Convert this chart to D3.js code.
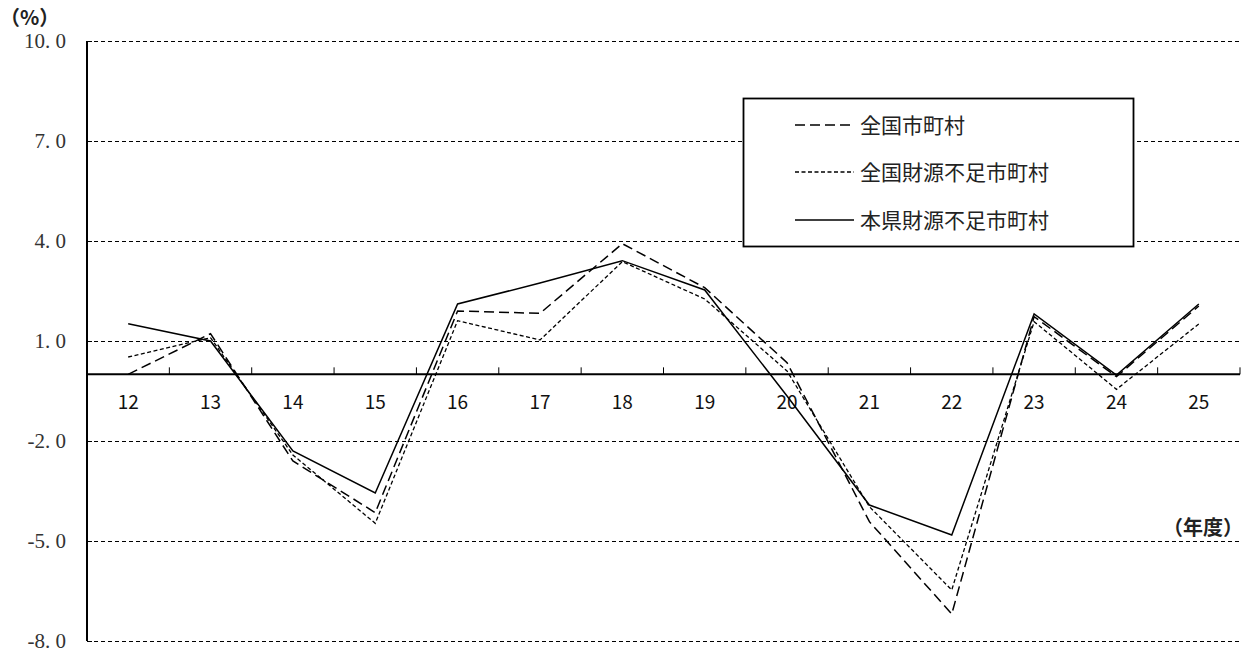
<!DOCTYPE html>
<html>
<head>
<meta charset="UTF-8">
<title>Chart</title>
<script src="https://cdn.jsdelivr.net/npm/d3@7"></script>
<style type="text/css">
body { margin: 0; background: #fff; }
svg { display: block; }
</style>
</head>
<body>
<div class="chart"></div>
<script>
// values (%)
var years = ["12","13","14","15","16","17","18","19","20","21","22","23","24","25"];
var national = [0.0, 1.22, -2.6, -4.15, 1.9, 1.83, 3.92, 2.6, 0.35, -4.42, -7.19, 1.73, -0.07, 2.05];
var nationalShort = [0.52, 1.1, -2.42, -4.47, 1.61, 1.03, 3.38, 2.26, 0.1, -3.97, -6.47, 1.58, -0.45, 1.51];
var prefShort = [1.52, 1.0, -2.3, -3.56, 2.11, 2.74, 3.41, 2.53, -0.65, -3.92, -4.82, 1.81, -0.02, 2.11];
var yTicks = [-8, -5, -2, 1, 4, 7, 10];
var seriesNames = ["全国市町村", "全国財源不足市町村", "本県財源不足市町村"];

var W = 1243, H = 653;
var plotLeft = 87, plotRight = 1240, plotTop = 41, plotBottom = 641;

var svg = d3.select(".chart").append("svg")
	.attr("width", W)
	.attr("height", H);

var x = d3.scaleBand().domain(years).range([plotLeft, plotRight]);
var y = d3.scaleLinear().domain([-8, 10]).range([plotBottom, plotTop]);
var cx = function(d){ return x(d) + x.bandwidth() / 2; };

// grid
svg.append("g").selectAll("line")
	.data(yTicks)
	.enter()
	.append("line")
	.attr("x1", plotLeft)
	.attr("x2", plotRight)
	.attr("y1", function(d){ return Math.round(y(d)) + 0.5; })
	.attr("y2", function(d){ return Math.round(y(d)) + 0.5; })
	.attr("stroke", "#000")
	.attr("stroke-width", 1)
	.attr("stroke-dasharray", "4,3");

// y axis
var yAxis = d3.axisLeft(y)
	.tickValues(yTicks)
	.tickSize(-5)
	.tickPadding(21)
	.tickFormat(function(d){ return d3.format(".1f")(d).replace("−", "-").replace(".", ". "); });

var gy = svg.append("g")
	.attr("transform", "translate(" + plotLeft + ",0)")
	.call(yAxis);
gy.select(".domain").remove();
gy.selectAll("line").attr("stroke", "#000");
gy.selectAll("text")
	.attr("font-family", "'Liberation Serif', 'DejaVu Serif', serif")
	.attr("font-size", 21)
	.attr("fill", "#333");

svg.append("line")
	.attr("x1", plotLeft).attr("x2", plotLeft)
	.attr("y1", plotTop).attr("y2", plotBottom)
	.attr("stroke", "#000")
	.attr("stroke-width", 2);

// x axis on zero
var gx = svg.append("g")
	.attr("transform", "translate(0," + y(0) + ")")
	.call(d3.axisBottom(x).tickSize(0).tickPadding(21));
gx.select(".domain").remove();
gx.selectAll("text")
	.attr("font-family", "'Noto Sans CJK JP', 'Liberation Sans', sans-serif")
	.attr("font-size", 19)
	.attr("fill", "#111");

svg.append("g").selectAll("line")
	.data(years.slice(1).concat(["end"]))
	.enter()
	.append("line")
	.attr("x1", function(d){ return d === "end" ? plotRight : x(d); })
	.attr("x2", function(d){ return d === "end" ? plotRight : x(d); })
	.attr("y1", y(0))
	.attr("y2", y(0) - 7)
	.attr("stroke", "#000")
	.attr("stroke-width", 1);

svg.append("line")
	.attr("x1", plotLeft).attr("x2", plotRight)
	.attr("y1", y(0)).attr("y2", y(0))
	.attr("stroke", "#000")
	.attr("stroke-width", 2);

// lines
var line = d3.line()
	.x(function(d, i){ return cx(years[i]); })
	.y(function(d){ return y(d); });

var styles = [
	{data: national, dash: "10,5", w: 1.5},
	{data: nationalShort, dash: "4,2.5", w: 1.3},
	{data: prefShort, dash: null, w: 1.5}
];

styles.forEach(function(s){
	svg.append("path")
		.datum(s.data)
		.attr("d", line)
		.attr("fill", "none")
		.attr("stroke", "#000")
		.attr("stroke-width", s.w)
		.attr("stroke-dasharray", s.dash);
});

// legend
var legend = svg.append("g");
legend.append("rect")
	.attr("x", 743.5).attr("y", 98.5)
	.attr("width", 390).attr("height", 148)
	.attr("fill", "#fff")
	.attr("stroke", "#000")
	.attr("stroke-width", 1.8);

var rowY = [125, 172, 220];
styles.forEach(function(s, i){
	legend.append("line")
		.attr("x1", 795).attr("x2", 854)
		.attr("y1", rowY[i]).attr("y2", rowY[i])
		.attr("stroke", "#000")
		.attr("stroke-width", s.w)
		.attr("stroke-dasharray", s.dash);
	legend.append("text")
		.attr("x", 860)
		.attr("y", rowY[i])
		.attr("dy", "0.36em")
		.attr("font-family", "'Noto Sans CJK JP', sans-serif")
		.attr("font-size", 21)
		.attr("fill", "#222")
		.text(seriesNames[i]);
});

// unit labels
svg.append("text")
	.attr("x", 0).attr("y", 25)
	.attr("font-family", "'Noto Sans CJK JP', sans-serif")
	.attr("font-size", 20)
	.attr("font-weight", "bold")
	.attr("fill", "#222")
	.text("（%）");

svg.append("text")
	.attr("x", 1243).attr("y", 535)
	.attr("text-anchor", "end")
	.attr("font-family", "'Noto Sans CJK JP', sans-serif")
	.attr("font-size", 20)
	.attr("font-weight", "bold")
	.attr("fill", "#222")
	.text("（年度）");
</script>
</body>
</html>
